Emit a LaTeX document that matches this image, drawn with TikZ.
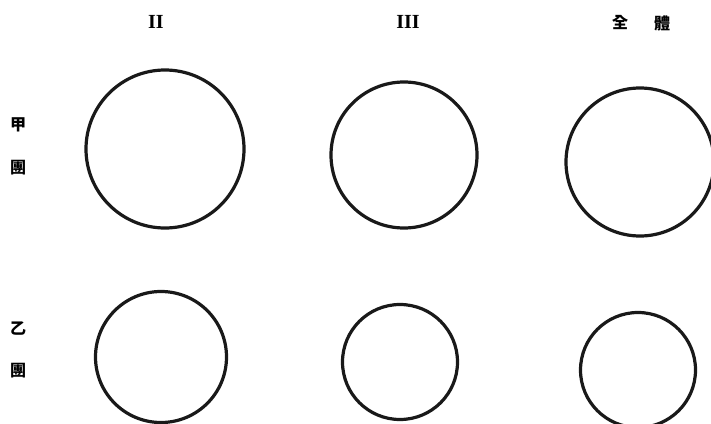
\documentclass[tikz,border=0pt]{standalone}
\usepackage{fontspec}
\usepackage{tikz}
\usetikzlibrary{positioning}
\setmainfont{Liberation Serif}
\newfontfamily\cjk{Noto Sans CJK TC}[Scale=1]
\tikzset{
  ring/.style   = {draw, circle, inner sep=0pt, line width=3.2pt, black!90},
  colhead/.style = {font=\fontsize{20}{20}\selectfont\bfseries, inner sep=0pt},
  cjkhead/.style = {font=\cjk\fontsize{16}{16}\selectfont\bfseries, inner sep=0pt},
}

\begin{document}
\begin{tikzpicture}[x=1pt, y=-1pt]
  \useasboundingbox (0,0) rectangle (711,423);
  % column heads
  \node[colhead] (hII) at (156,22) {II};
  \node[colhead] (hIII) at (408,22) {III};
  \node[cjkhead] (hall1) at (620,23) {全};
  \node[cjkhead] (hall2) at (662,23) {體};
  % row heads
  \node[cjkhead] (ra1) at (18,125) {甲};
  \node[cjkhead] (ra2) at (18,168) {團};
  \node[cjkhead] (rb1) at (18,329) {乙};
  \node[cjkhead] (rb2) at (18,371) {團};
  % first group
  \node[ring, minimum size=158pt] (a2) at (165,149) {};
  \node[ring, minimum size=146pt] (a3) at (404,155) {};
  \node[ring, minimum size=148pt] (aall) at (640,162) {};
  % second group
  \node[ring, minimum size=131pt] (b2) at (161,357) {};
  \node[ring, minimum size=115pt] (b3) at (400,362) {};
  \node[ring, minimum size=115pt] (ball) at (638,370) {};
\end{tikzpicture}
\end{document}
